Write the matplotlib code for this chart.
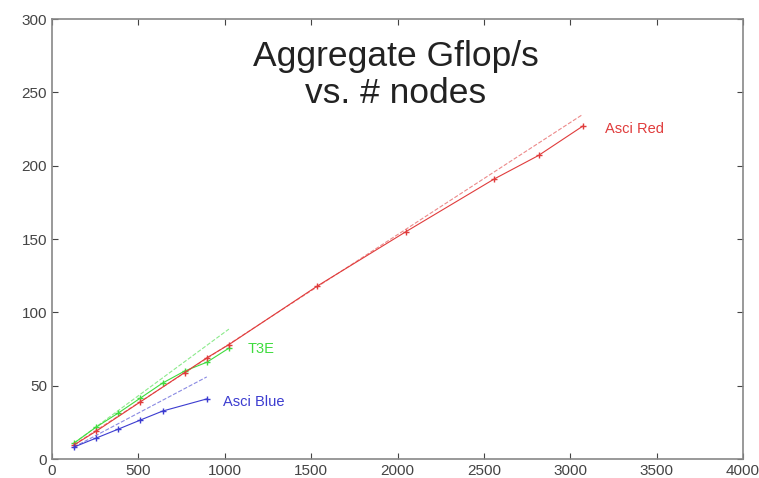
import matplotlib
matplotlib.use("Agg")
import matplotlib.pyplot as plt

plt.rcParams['font.family'] = ['Liberation Sans', 'DejaVu Sans']

# Data
red_x = [128, 256, 512, 768, 896, 1024, 1536, 2048, 2560, 2816, 3072]
red_y = [9.6, 19, 39, 59, 69, 78, 118, 155, 191, 207, 227]
red_ideal_x = [128, 3072]
red_ideal_y = [9.8, 235]

t3e_x = [128, 256, 384, 512, 640, 768, 896, 1024]
t3e_y = [10.9, 21.8, 31.4, 41.6, 51.8, 60, 66, 75.6]
t3e_ideal_x = [128, 1024]
t3e_ideal_y = [10.9, 88.6]

blue_x = [128, 256, 384, 512, 640, 896]
blue_y = [8.2, 14.3, 20.4, 26.6, 32.7, 41]
blue_ideal_x = [128, 896]
blue_ideal_y = [8.2, 56]

xticks = [0, 500, 1000, 1500, 2000, 2500, 3000, 3500, 4000]
yticks = [0, 50, 100, 150, 200, 250, 300]

red_c = '#e03c3c'
green_c = '#3fdc3f'
blue_c = '#3c3cd0'

fig = plt.figure(figsize=(7.59, 4.78), dpi=100)
ax = fig.add_axes([0.0685, 0.0397, 0.9105, 0.9203])

ax.plot(red_ideal_x, red_ideal_y, '--', color=red_c, lw=0.8, alpha=0.6)
ax.plot(t3e_ideal_x, t3e_ideal_y, '--', color=green_c, lw=0.8, alpha=0.6)
ax.plot(blue_ideal_x, blue_ideal_y, '--', color=blue_c, lw=0.8, alpha=0.6)

ax.plot(t3e_x, t3e_y, '-', color=green_c, lw=0.8, marker='+', ms=5, mew=1.0)
ax.plot(red_x, red_y, '-', color=red_c, lw=0.8, marker='+', ms=5, mew=1.0)
ax.plot(blue_x, blue_y, '-', color=blue_c, lw=0.8, marker='+', ms=5, mew=1.0)

ax.text(3200, 225, 'Asci Red', color=red_c, fontsize=10.5, va='center', ha='left')
ax.text(1130, 75, 'T3E', color=green_c, fontsize=10.5, va='center', ha='left')
ax.text(990, 39, 'Asci Blue', color=blue_c, fontsize=10.5, va='center', ha='left')

ax.text(1991, 268, 'Aggregate Gflop/s', fontsize=25.5, ha='center', va='baseline', color='#222222')
ax.text(1991, 242.7, 'vs. # nodes', fontsize=25.5, ha='center', va='baseline', color='#222222')

ax.set_xlim(0, 4000)
ax.set_ylim(0, 300)
ax.set_xticks(xticks)
ax.set_yticks(yticks)
ax.tick_params(direction='in', top=True, right=True, labelsize=11, colors='#444444', length=4)
for s in ax.spines.values():
    s.set_color('#888888')
    s.set_linewidth(1.2)

fig.savefig('out.png', dpi=100)
